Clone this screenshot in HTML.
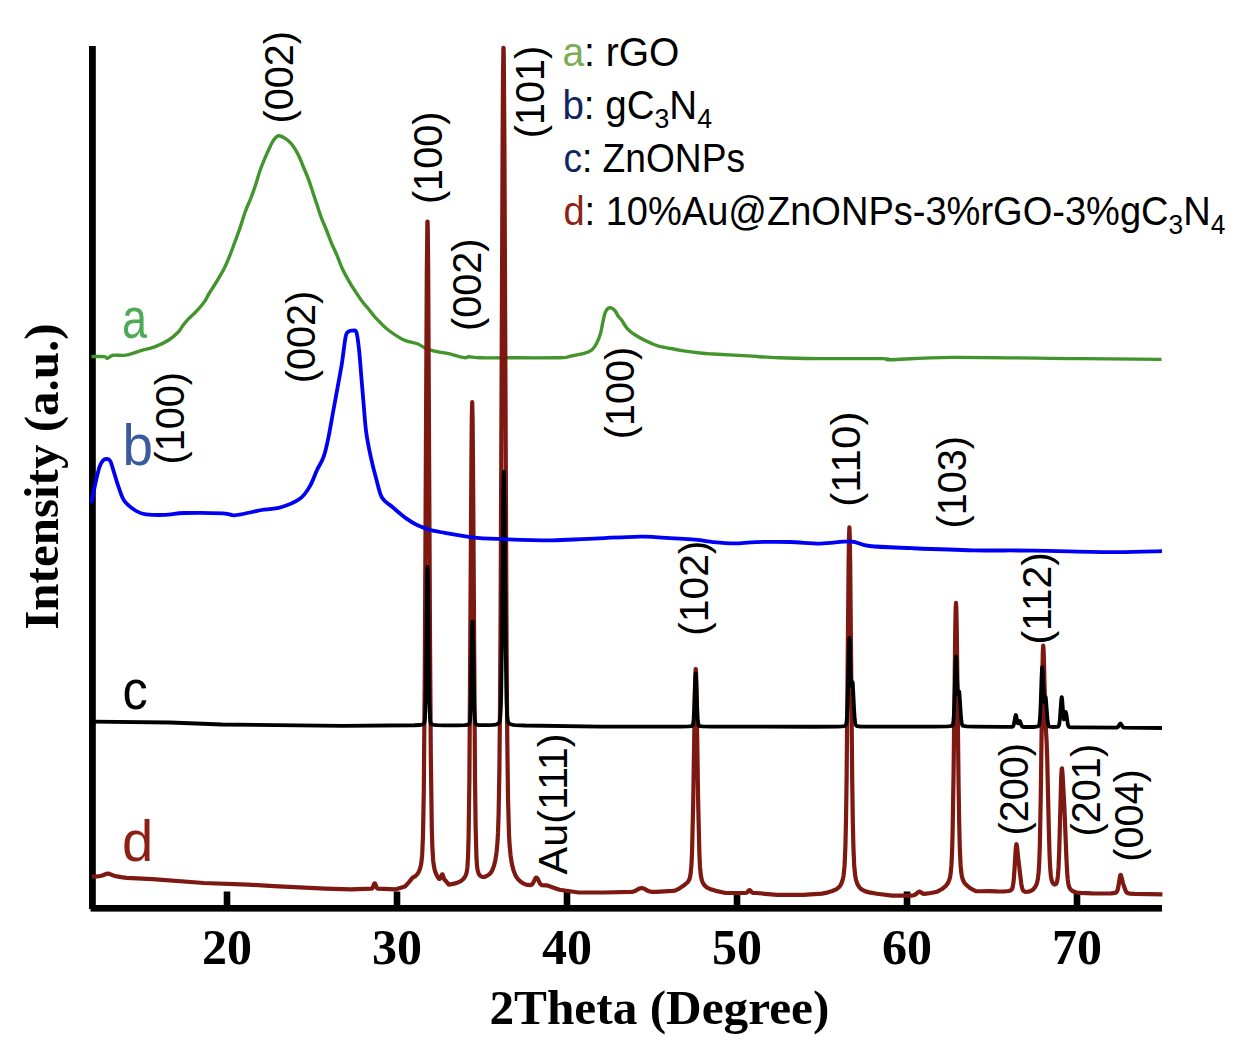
<!DOCTYPE html>
<html><head><meta charset="utf-8"><style>
html,body{margin:0;padding:0;background:#fff;width:1244px;height:1048px;overflow:hidden}
svg{display:block}
</style></head><body>
<svg width="1244" height="1048" viewBox="0 0 1244 1048">
<rect width="1244" height="1048" fill="#fff"/>

<g fill="#000">
<rect x="89" y="46" width="6.8" height="863"/>
<rect x="90.5" y="905" width="1071.5" height="6.6"/>
<rect x="223.7" y="891.5" width="6.6" height="15"/><rect x="393.7" y="891.5" width="6.6" height="15"/><rect x="563.7" y="891.5" width="6.6" height="15"/><rect x="733.7" y="891.5" width="6.6" height="15"/><rect x="903.7" y="891.5" width="6.6" height="15"/><rect x="1073.7" y="891.5" width="6.6" height="15"/>
</g>
<g fill="none" stroke-linejoin="round" stroke-linecap="butt">
<path d="M91.5,356.6C93.67,356.6 101.85,356.32 104.5,356.6C107.15,356.88 105.95,358.52 107.4,358.3C108.85,358.08 110.13,355.83 113.2,355.3C116.27,354.77 121.3,355.85 125.8,355.1C130.3,354.35 135.38,352.17 140.2,350.8C145.02,349.43 149.87,348.75 154.7,346.9C159.53,345.05 165.18,342.27 169.2,339.7C173.22,337.13 176.55,333.83 178.8,331.5C181.05,329.17 181.08,327.8 182.7,325.7C184.32,323.6 186.45,321.05 188.5,318.9C190.55,316.75 192.83,315.03 195,312.8C197.17,310.57 199.7,307.7 201.5,305.5C203.3,303.3 204.53,301.6 205.8,299.6C207.07,297.6 207.28,296.52 209.1,293.5C210.92,290.48 214.15,285.73 216.7,281.5C219.25,277.27 222.17,272.55 224.4,268.1C226.63,263.65 228.2,259.57 230.1,254.8C232,250.03 234.05,244.28 235.8,239.5C237.55,234.72 239.02,230.77 240.6,226.1C242.18,221.43 243.55,216.27 245.3,211.5C247.05,206.73 249.35,202.05 251.1,197.5C252.85,192.95 254.37,188.53 255.8,184.2C257.23,179.87 258.27,175.63 259.7,171.5C261.13,167.37 262.65,163.57 264.4,159.4C266.15,155.23 268.6,149.82 270.2,146.5C271.8,143.18 272.58,141.28 274,139.5C275.42,137.72 276.78,135.95 278.7,135.8C280.62,135.65 283.32,137.2 285.5,138.6C287.68,140 289.7,141.57 291.8,144.2C293.9,146.83 296.27,150.85 298.1,154.4C299.93,157.95 301.05,161.3 302.8,165.5C304.55,169.7 306.93,175.15 308.6,179.6C310.27,184.05 311.4,188 312.8,192.2C314.2,196.4 315.6,200.6 317,204.8C318.4,209 319.63,213.2 321.2,217.4C322.77,221.6 324.73,225.82 326.4,230C328.07,234.18 329.45,238.32 331.2,242.5C332.95,246.68 335.1,250.85 336.9,255.1C338.7,259.35 340.07,263.8 342,268C343.93,272.2 346.2,276.27 348.5,280.3C350.8,284.33 353.63,288.83 355.8,292.2C357.97,295.57 359.52,297.87 361.5,300.5C363.48,303.13 365.53,305.33 367.7,308C369.87,310.67 372.45,314.12 374.5,316.5C376.55,318.88 377.6,319.97 380,322.3C382.4,324.63 385,327.6 388.9,330.5C392.8,333.4 398.57,337.45 403.4,339.7C408.23,341.95 414.03,342.48 417.9,344C421.77,345.52 423.38,347.52 426.6,348.8C429.82,350.08 433.52,350.88 437.2,351.7C440.88,352.52 444.2,352.72 448.7,353.7C453.2,354.68 460.82,357.08 464.2,357.6C467.58,358.12 466.37,356.77 469,356.8C471.63,356.83 474.1,357.63 480,357.8C485.9,357.97 491.07,357.82 504.4,357.8C517.73,357.78 549.13,357.95 560,357.7C570.87,357.45 565.58,357.02 569.6,356.3C573.62,355.58 580.4,354.45 584.1,353.4C587.8,352.35 589.7,351.7 591.8,350C593.9,348.3 595.25,345.93 596.7,343.2C598.15,340.47 599.47,337.13 600.5,333.6C601.53,330.07 602.1,325.53 602.9,322C603.7,318.47 604.42,314.7 605.3,312.4C606.18,310.1 607.07,308.9 608.2,308.2C609.33,307.5 610.88,307.67 612.1,308.2C613.32,308.73 614.53,310.15 615.5,311.4C616.47,312.65 616.87,314.22 617.9,315.7C618.93,317.18 620.1,318.12 621.7,320.3C623.3,322.48 625.25,326.35 627.5,328.8C629.75,331.25 631.98,332.92 635.2,335C638.42,337.08 642.93,339.45 646.8,341.3C650.67,343.15 654.38,344.9 658.4,346.1C662.42,347.3 666.98,347.75 670.9,348.5C674.82,349.25 677.05,349.85 681.9,350.6C686.75,351.35 694.82,352.43 700,353C705.18,353.57 705,353.52 713,354C721,354.48 737.05,355.27 748,355.9C758.95,356.53 767.2,357.35 778.7,357.8C790.2,358.25 799.62,358.47 817,358.6C834.38,358.73 870.73,358.42 883,358.6C895.27,358.78 879.05,359.9 890.6,359.7C902.15,359.5 921.43,357.58 952.3,357.4C983.17,357.22 1040.93,358.27 1075.8,358.6C1110.67,358.93 1147.22,359.27 1161.5,359.4" stroke="#43942c" stroke-width="3.4"/>
<path d="M92,876.6 97,876.4 100.6,875.96 103,875.29 106.6,873.8 108,873.57 109.4,873.86 113.4,875.48 117,876.43 121,877.17 126.6,877.9 152.4,879.11 203.8,883 248,884.6 273.8,886.11 325.2,888.6 350.8,889.3 371.6,888.65 372.2,888.32 372.6,887.84 374.2,883.76 374.6,883.24 374.8,883.23 375.4,884.2 376.6,887.43 377.2,888.25 377.8,888.55 395.8,889.3 405,886.5 409.2,881.9 412.6,877.64 415,876.33 416.6,874.98 417.8,873.51 418.8,871.8 420,868.8 421,864.81 421.6,860.88 422.2,854.21 423,835.4 423.8,791.66 424.8,671.72 426.8,273.19 427.4,221.62 427.6,221.64 427.8,230.63 428.2,273.39 430,637.77 430.8,754.99 431.8,828.77 432.4,848.22 433.2,860.69 433.8,865.48 434.8,870.22 436,873.79 437.6,876.9 439,878.71 439.6,878.96 440,878.85 440.6,878.04 441.8,874.76 442.2,874.25 442.4,874.3 442.8,874.98 444.4,879.68 444.8,880.18 445.6,880.65 448.8,884.59 453.2,883.89 457.4,882.67 460.8,881.05 463.2,879.13 464.8,877.18 466,874.7 466.8,871.68 467.4,867.16 468,857.59 468.6,837.22 469.4,778.32 471.4,462.63 471.8,418.2 472.2,402.2 472.6,418.1 473,462.43 475,777.59 475.6,825.7 476.4,856.49 477,865.88 477.6,870.23 478.6,873.47 479.4,874.84 480.4,875.93 481.8,876.77 483,877 484.6,876.83 486.2,876.24 488.4,874.99 489.8,873.84 491.2,872.13 492.4,870.03 494,865.82 495.4,860 496.6,852 497.4,843.27 498,832.64 498.6,814.89 499.4,769.65 500,708.52 500.6,614.95 502.6,143.11 503,77.95 503.4,47.87 503.6,47.9 503.8,58.13 504.4,143.37 506.6,650.97 507.2,733.24 508,797.62 509,834.25 509.6,845.06 510.6,855.73 511.8,863.46 513.4,870.03 515.2,874.73 516.4,876.94 517.6,878.67 520.4,881.49 523.8,883.65 526,884.62 530.2,885.1 531.4,884.81 532.4,884.01 533.4,882.46 535.4,878.3 536,877.61 536.6,877.51 537.6,878.65 540,883.54 540.8,884.49 541.8,885.08 543.2,885.3 546.6,885.24 559.4,889.72 578.6,892.5 604.2,892.5 631.4,891.81 633.2,891.58 634.8,891.12 639.6,888.46 641.6,887.95 643.6,888.46 648.4,891.12 651.4,891.78 656.2,891.88 672.2,890.9 675,890.6 679.6,888.28 683,886.1 687.6,882.26 688.6,880.83 689.4,879.1 690,877.11 690.6,873.9 691.4,865.56 692,853.49 693.2,803.5 695,686.06 695.6,669.16 695.8,669.19 696,672.16 696.4,686.25 698.2,804.15 699.4,854.46 700,866.68 700.8,875.24 701.8,880.12 702.6,882.27 703.6,884.09 704.8,885.63 706.2,886.9 707.8,887.95 709.8,888.9 715.8,890.86 725.6,892.98 746,892.94 747.2,892.42 748.8,890.43 749.6,890.02 750.2,890.43 751.8,892.42 753,892.94 756,893 777.2,894.9 803,894.9 822.2,893.6 828,892.36 832.4,890.99 836.6,889.03 839,887.14 840.6,884.99 841.8,882.5 842.8,879.35 843.6,875.33 844.6,865.16 845.4,846.49 846,820.26 846.6,778.81 848.6,564.48 849,537.14 849.4,527.4 849.8,537.16 850.2,564.53 852.2,778.99 852.8,820.48 853.4,846.74 854.2,865.47 855.2,875.71 856,879.78 857,882.99 858.2,885.56 859.6,887.59 862,889.73 865.4,891.38 869.2,892.39 877,893.71 892.2,895.6 911.4,895.6 913.6,895.26 915,894.76 916,894.11 918.2,892.12 919.2,891.68 920.2,891.87 923,893.59 924.6,893.86 930.8,893.03 937.2,891.7 942,889.02 945.8,885.83 947.8,883.29 949.2,880.22 950,877.37 950.6,873.98 951.4,865.65 952,853.62 952.6,832.99 953.6,771.31 955.2,631.97 955.6,610.47 956,602.8 956.4,610.43 956.8,631.89 958.6,786.32 959.2,823.27 959.8,847.51 960.6,865.19 961.4,873.45 962,876.78 962.6,878.97 963.4,881.01 964.6,883.08 966,884.65 969.6,887.73 972.4,889.45 975.8,891.1 981.2,891.27 988.6,891.1 997,891.47 1003.4,891.5 1008.8,890.98 1010.2,890.59 1011.2,890.03 1012,889.07 1012.6,887.55 1013.6,881.37 1014.4,871.11 1015.6,850.81 1016,846.2 1016.4,844.24 1016.6,844.33 1017,846.32 1018.4,859.79 1021.2,883.26 1022,887.65 1022.8,889.95 1023.8,891.18 1025.4,891.9 1028,891.76 1030.8,890.89 1032.8,889.68 1034.4,888.1 1035.8,885.92 1036.8,883.52 1037.8,879.45 1038.6,872.86 1039.2,863.3 1039.8,846.46 1040.8,794.06 1042.4,671.82 1042.8,652.91 1043.2,645.6 1043.4,646.47 1043.8,655.96 1045.4,720.11 1046.6,741.45 1047.2,757.74 1048.8,828.59 1049.6,855.68 1050.2,868.05 1050.8,875.21 1051.4,879.16 1052.4,882.37 1053.4,883.84 1054.4,884.49 1055.4,884.43 1056.2,883.73 1056.8,882.51 1057.2,881.06 1058,875.16 1058.6,866.13 1059.2,851.21 1061.2,777.31 1061.6,770.06 1061.8,768.6 1062,768.53 1062.6,774.7 1064.4,807.83 1066.4,857.71 1067.2,872.86 1067.8,879.93 1068.4,884.15 1069.2,887.13 1070.4,889.24 1072,890.71 1074.2,891.86 1076.8,892.51 1080.2,892.92 1092.2,893.37 1103.6,893.49 1111.2,893.33 1115.2,892.85 1116,892.53 1116.6,892.04 1117.6,890.04 1118.4,886.49 1119.8,877.33 1120.2,875.57 1120.6,874.9 1120.8,875 1121.2,875.95 1122.8,882.56 1125.2,889.76 1126.2,891.88 1126.8,892.58 1127.6,893.09 1130.2,893.62 1135,893.94 1162.4,894.4" stroke="#7e1912" stroke-width="4.2"/>
<path d="M92,721.6 170,722.5 222,724.5 342,725.89 414.4,725.26 420.2,724.98 423,724.33 424,723.57 424.6,721.87 425,718.4 425.4,710.08 426,680.06 427.2,574.37 427.4,566.96 427.6,566.96 428,587.99 428.8,664.15 429.4,702.88 430,718.41 430.4,721.88 430.8,723.23 431.2,723.81 431.8,724.24 434,724.89 437.4,725.19 443.6,725.34 457.6,725.36 464.8,725.19 468.2,724.67 469,724.23 469.4,723.66 470,720.83 470.6,710.63 472.2,626.2 472.4,621.33 472.6,621.33 473,635.15 474.2,704.12 474.8,718.64 475.4,723.1 476,724.22 476.8,724.65 478.8,725.04 481.8,725.22 488,725.22 493,724.97 496,724.51 498,723.74 498.8,723.11 499.4,722.18 499.8,720.86 500.2,718.17 500.8,708.28 501.2,694.26 502,636.79 503.2,501.15 503.6,475.19 503.8,471.7 504,475.2 504.4,501.15 505.8,655.31 506.6,702.27 507.2,715.93 507.8,720.88 508.6,722.9 509.4,723.64 510.6,724.24 512.6,724.77 515.2,725.09 525,725.51 600,726.59 681,726.55 688.4,726.43 691.6,726.08 692.4,725.6 692.8,724.84 693.2,723.08 693.6,719.39 694.2,708.19 695.2,679.48 695.6,673.47 695.8,673.47 696.2,679.48 697.2,708.19 697.8,719.39 698.4,724.13 698.8,725.3 699.6,726.01 702.8,726.42 711.2,726.57 813.4,726.73 837.2,726.63 841.6,726.43 844.2,726.05 845,725.78 845.6,725.32 846.2,723.95 846.6,721.61 847,716.9 847.8,695.31 849,644.31 849.4,638 849.8,642.69 850.8,675.94 851.2,683.92 851.4,685.54 851.6,685.8 852.4,681.93 852.6,682.15 852.8,683.5 854.2,711.13 854.8,719.83 855.2,722.97 855.6,724.62 856.2,725.65 857,726.07 860.6,726.51 868.6,726.68 933.2,726.6 947.4,726.38 950.4,726.09 952,725.6 952.6,724.86 953,723.6 953.4,720.94 953.8,715.87 954.4,701.71 955.4,666.72 956,656.4 956.4,660.12 957.4,686.46 957.8,692.81 958,694.11 958.2,694.34 959,691.35 959.2,691.53 959.4,692.6 960.8,714.33 961.4,721.17 961.8,723.64 962.2,724.95 962.6,725.58 963.2,725.98 966.6,726.45 974.6,726.69 1003.2,726.97 1012.2,726.81 1012.8,726.53 1013.2,726.08 1013.8,724.55 1015.2,716.72 1015.8,715 1016.2,715.76 1017.2,721.12 1017.8,723.17 1018,723.37 1018.4,723.13 1019.4,721.09 1019.8,720.95 1020.2,721.57 1021.6,725.58 1022,726.25 1022.6,726.75 1024.8,727.01 1033.4,726.99 1036.8,726.73 1038.4,726.21 1039,725.29 1039.4,723.71 1040,718.02 1040.6,705.89 1041.6,675.92 1042,668.35 1042.2,667.2 1042.6,670.62 1044,700.65 1044.2,701.96 1044.4,702.2 1045.4,696.94 1045.6,696.88 1045.8,697.66 1047.6,720.87 1048.4,725.31 1048.8,726.11 1049.4,726.59 1052.2,726.98 1056.8,726.97 1058.2,726.61 1058.8,725.77 1059.4,723.31 1059.8,720.03 1061.2,700.09 1061.6,697.14 1061.8,697.12 1062.2,699.96 1063.4,716.25 1063.8,718.9 1064,719.33 1064.4,718.6 1065.4,712.86 1065.8,712.01 1066.4,714.24 1067.8,724.13 1068.4,726.07 1068.8,726.66 1069.4,727.02 1071.8,727.28 1078,727.42 1116.2,727.64 1117.2,727.46 1118,726.95 1119.8,723.96 1120.4,723.5 1121,723.97 1122.8,726.98 1123.4,727.42 1124.4,727.67 1162,728" stroke="#000" stroke-width="3.8"/>
<path d="M91.4,503C92.12,499.5 94.33,488.05 95.7,482C97.07,475.95 98.38,470.28 99.6,466.7C100.82,463.12 101.85,461.78 103,460.5C104.15,459.22 105.3,458.93 106.5,459C107.7,459.07 108.95,458.67 110.2,460.9C111.45,463.13 112.55,467.9 114,472.4C115.45,476.9 117.12,483.07 118.9,487.9C120.68,492.73 121.82,497.55 124.7,501.4C127.58,505.25 132.67,508.85 136.2,511C139.73,513.15 141.07,513.65 145.9,514.3C150.73,514.95 158.77,515.12 165.2,514.9C171.63,514.68 174.87,513.27 184.5,513C194.13,512.73 214.65,512.92 223,513.3C231.35,513.68 229.77,515.52 234.6,515.3C239.43,515.08 247.5,512.88 252,512C256.5,511.12 256.77,510.8 261.6,510C266.43,509.2 274.57,509.12 281,507.2C287.43,505.28 295.37,502.03 300.2,498.5C305.03,494.97 307.22,490.7 310,486C312.78,481.3 314.62,475.2 316.9,470.3C319.18,465.4 321.8,461.95 323.7,456.6C325.6,451.25 326.77,445.47 328.3,438.2C329.83,430.93 331.37,421.38 332.9,413C334.43,404.62 335.98,396.28 337.5,387.9C339.02,379.52 340.67,371.1 342,362.7C343.33,354.3 344.5,342.65 345.5,337.5C346.5,332.35 346.85,332.95 348,331.8C349.15,330.65 350.98,330.48 352.4,330.6C353.82,330.72 355.37,329.07 356.5,332.5C357.63,335.93 358.37,343.5 359.2,351.2C360.03,358.9 360.73,369.53 361.5,378.7C362.27,387.87 363.03,397.42 363.8,406.2C364.57,414.98 364.95,423 366.1,431.4C367.25,439.8 368.98,448.58 370.7,456.6C372.42,464.62 374.5,472.63 376.4,479.5C378.3,486.37 379.43,493.22 382.1,497.8C384.77,502.38 388.38,503.57 392.4,507C396.42,510.43 402,515.35 406.2,518.4C410.4,521.45 413.63,523.4 417.6,525.3C421.57,527.2 426.27,528.68 430,529.8C433.73,530.92 433,530.75 440,532C447,533.25 461.58,536.12 472,537.3C482.42,538.48 489.28,538.6 502.5,539.1C515.72,539.6 537.05,540.35 551.3,540.3C565.55,540.25 573.22,539.4 588,538.8C602.78,538.2 628.3,536.95 640,536.7C651.7,536.45 649.05,536.8 658.2,537.3C667.35,537.8 685.73,538.9 694.9,539.7C704.07,540.5 706.58,541.48 713.2,542.1C719.82,542.72 727.47,543.4 734.6,543.4C741.73,543.4 746.77,542.33 756,542.1C765.23,541.87 779.25,541.75 790,542C800.75,542.25 810.33,543.68 820.5,543.6C830.67,543.52 842.85,541.1 851,541.5C859.15,541.9 859.2,544.88 869.4,546C879.6,547.12 894.88,547.48 912.2,548.2C929.52,548.92 952.95,549.9 973.3,550.3C993.65,550.7 1010.88,550.28 1034.3,550.6C1057.72,550.92 1092.52,552.1 1113.8,552.2C1135.08,552.3 1153.97,551.37 1162,551.2" stroke="#0000f2" stroke-width="3.8"/>
</g>
<g font-family='"Liberation Serif", serif' font-weight="bold" fill="#000" text-anchor="middle">
<text x="227" y="964.2" font-size="50">20</text><text x="397" y="964.2" font-size="50">30</text><text x="567" y="964.2" font-size="50">40</text><text x="737" y="964.2" font-size="50">50</text><text x="907" y="964.2" font-size="50">60</text><text x="1077" y="964.2" font-size="50">70</text>
<text x="659.4" y="1024.3" font-size="49.3">2Theta (Degree)</text>
<text transform="translate(57.8,476.6) rotate(-90)" font-size="49">Intensity (a.u.)</text>
</g>
<g font-family='"Liberation Sans", sans-serif' fill="#000">
<text transform="translate(293.3,123.5) rotate(-90)" font-size="41.5" textLength="92.5" lengthAdjust="spacingAndGlyphs">(002)</text>
<text transform="translate(442,204.1) rotate(-90)" font-size="41.5" textLength="92.5" lengthAdjust="spacingAndGlyphs">(100)</text>
<text transform="translate(544.3,138.2) rotate(-90)" font-size="41.5" textLength="92.5" lengthAdjust="spacingAndGlyphs">(101)</text>
<text transform="translate(481.1,331) rotate(-90)" font-size="41.5" textLength="92.5" lengthAdjust="spacingAndGlyphs">(002)</text>
<text transform="translate(314.5,383.3) rotate(-90)" font-size="41.5" textLength="92.5" lengthAdjust="spacingAndGlyphs">(002)</text>
<text transform="translate(184.3,464.5) rotate(-90)" font-size="41.5" textLength="92.5" lengthAdjust="spacingAndGlyphs">(100)</text>
<text transform="translate(634,439.2) rotate(-90)" font-size="41.5" textLength="92.5" lengthAdjust="spacingAndGlyphs">(100)</text>
<text transform="translate(859.6,506.7) rotate(-90)" font-size="41.5" textLength="95.2" lengthAdjust="spacingAndGlyphs">(110)</text>
<text transform="translate(966.1,528.5) rotate(-90)" font-size="41.5" textLength="92.5" lengthAdjust="spacingAndGlyphs">(103)</text>
<text transform="translate(707.6,635.8) rotate(-90)" font-size="41.5" textLength="95.2" lengthAdjust="spacingAndGlyphs">(102)</text>
<text transform="translate(1051.4,644.6) rotate(-90)" font-size="41.5" textLength="92.5" lengthAdjust="spacingAndGlyphs">(112)</text>
<text transform="translate(1027.5,835.5) rotate(-90)" font-size="41.5" textLength="92.5" lengthAdjust="spacingAndGlyphs">(200)</text>
<text transform="translate(1100,836.4) rotate(-90)" font-size="41.5" textLength="92.5" lengthAdjust="spacingAndGlyphs">(201)</text>
<text transform="translate(1142.6,861.8) rotate(-90)" font-size="41.5" textLength="92.5" lengthAdjust="spacingAndGlyphs">(004)</text>
<text transform="translate(566.5,874.4) rotate(-90)" font-size="41.5" textLength="141" lengthAdjust="spacingAndGlyphs">Au(111)</text>
</g>
<g font-family='"Liberation Sans", sans-serif' font-size="58">
<text x="121.9" y="337.5" fill="#4eaa5a" textLength="25.1" lengthAdjust="spacingAndGlyphs">a</text>
<text x="122.4" y="464.7" fill="#3a5a9e" textLength="30.5" lengthAdjust="spacingAndGlyphs">b</text>
<text x="122.5" y="708.8" fill="#000" font-size="56" textLength="25.2" lengthAdjust="spacingAndGlyphs">c</text>
<text x="122.1" y="861.4" fill="#8e1f14" textLength="31.3" lengthAdjust="spacingAndGlyphs">d</text>
</g>
<g font-family='"Liberation Sans", sans-serif' font-size="40.5" fill="#000">
<text x="562.4" y="65.6" textLength="117" lengthAdjust="spacingAndGlyphs"><tspan fill="#7aad55">a</tspan>: rGO</text>
<text x="562.4" y="119" textLength="149.6" lengthAdjust="spacingAndGlyphs"><tspan fill="#0e2464">b</tspan>: gC<tspan font-size="28" dy="8.5">3</tspan><tspan dy="-8.5">N</tspan><tspan font-size="28" dy="8.5">4</tspan></text>
<text x="563.4" y="172.2" textLength="181.6" lengthAdjust="spacingAndGlyphs"><tspan fill="#0e2464">c</tspan>: ZnONPs</text>
<text x="563.4" y="225.4" textLength="661.9" lengthAdjust="spacingAndGlyphs"><tspan fill="#8e2218">d</tspan>: 10%Au@ZnONPs-3%rGO-3%gC<tspan font-size="28" dy="8.5">3</tspan><tspan dy="-8.5">N</tspan><tspan font-size="28" dy="8.5">4</tspan></text>
</g>
</svg>
</body></html>
